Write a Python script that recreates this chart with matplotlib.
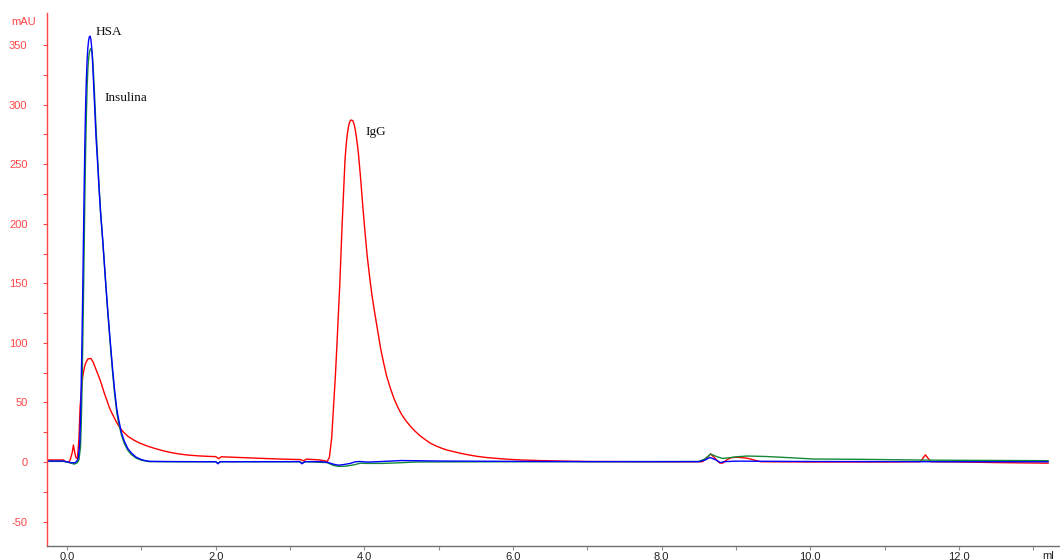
import matplotlib
matplotlib.use("Agg")
import matplotlib.pyplot as plt

plt.rcParams["axes.unicode_minus"] = False

# Chromatogram traces (volume in ml, absorbance in mAU)
hsa_ml = [-0.27, -0.05, 0.0, 0.05, 0.10, 0.13, 0.15, 0.17, 0.18, 0.19, 0.20,
          0.21, 0.22, 0.23, 0.24, 0.25, 0.26, 0.27, 0.28, 0.29, 0.30, 0.31,
          0.32, 0.33, 0.34, 0.35, 0.37, 0.39, 0.41, 0.43, 0.45, 0.48, 0.52,
          0.55, 0.58, 0.61, 0.64, 0.67, 0.69, 0.73, 0.77, 0.82, 0.87, 0.93,
          1.0, 1.06, 1.12, 1.5, 2.0, 2.03, 2.06, 3.13, 3.16, 3.2, 3.4, 3.5,
          3.58, 3.65, 3.72, 3.81, 3.88, 3.94, 4.05, 4.2, 4.5, 5.0, 6.0, 7.0,
          8.0, 8.5, 8.58, 8.65, 8.72, 8.79, 8.85, 9.0, 10.0, 11.0, 12.0, 13.2]
hsa_mau = [0.8, 0.8, 0.0, -0.5, -0.8, 0.5, 3, 15, 35, 65, 100,
           140, 185, 230, 270, 300, 322, 338, 348, 354, 357, 357.5,
           355, 349, 340, 327, 300, 272, 252, 230, 210, 186, 150,
           125, 102, 80, 60, 44, 37, 25, 17.5, 11, 7.3, 4,
           2, 1.0, 0.5, 0.3, 0.2, -1.5, 0.2, 0.3, -1.5, 0.3, 0.3, -0.3,
           -1.8, -2.7, -2.2, -1.2, 0.2, 0.4, -0.1, 0.3, 1.2, 0.8, 0.5, 0.3,
           0.3, 0.3, 1.5, 3.8, 2.0, -0.5, 0.3, 0.7, 0.4, 0.3, 0.2, 0.2]

ins_ml = [-0.27, -0.05, 0.0, 0.05, 0.10, 0.14, 0.16, 0.18, 0.19, 0.20, 0.21,
          0.22, 0.23, 0.24, 0.25, 0.26, 0.27, 0.28, 0.29, 0.30, 0.315, 0.33,
          0.34, 0.35, 0.37, 0.39, 0.41, 0.43, 0.45, 0.48, 0.52, 0.55, 0.58,
          0.61, 0.64, 0.67, 0.69, 0.73, 0.77, 0.82, 0.87, 0.93, 1.0, 1.1,
          1.5, 2.0, 2.03, 2.06, 3.13, 3.16, 3.2, 3.5, 3.58, 3.65, 3.75, 3.85,
          3.95, 4.03, 4.25, 4.5, 4.7, 6.0, 8.0, 8.5, 8.58, 8.66, 8.74, 8.82,
          8.9, 9.0, 9.15, 9.4, 9.6, 10.04, 10.7, 11.5, 12.0, 13.2]
ins_mau = [0.5, 0.5, 0.0, -1.0, -1.8, -0.5, 2, 12, 30, 58, 95,
           135, 180, 225, 262, 292, 315, 330, 339, 344, 347, 346,
           342, 333, 308, 280, 256, 232, 211, 186, 150, 124, 100,
           77, 57, 41, 34, 23, 15.5, 9.5, 6, 3.2, 1.5, 0.3,
           0.2, 0.2, -1.0, 0.2, 0.2, -1.0, 0.2, -0.5, -2.8, -3.7, -3.5, -2.5,
           -1.0, -1.2, -1.2, -0.6, 0.0, 0.2, 0.3, 0.4, 2.5, 6.7, 4.5, 3.0,
           3.5, 4.3, 5.0, 4.6, 4.0, 2.5, 2.2, 1.6, 1.4, 1.1]

igg_ml = [-0.27, -0.05, -0.02, 0.02, 0.04, 0.07, 0.085, 0.10, 0.12, 0.14,
          0.16, 0.175, 0.19, 0.20, 0.21, 0.22, 0.235, 0.25, 0.28, 0.32, 0.35,
          0.40, 0.444, 0.50, 0.58, 0.62, 0.66, 0.713, 0.76, 0.82, 0.90, 0.98,
          1.06, 1.117, 1.2, 1.3, 1.4, 1.5, 1.61, 1.75, 1.9, 2.0, 2.04, 2.08,
          2.1, 2.5, 2.8, 3.14, 3.18, 3.22, 3.4, 3.47, 3.5, 3.53, 3.56, 3.58,
          3.61, 3.63, 3.67, 3.70, 3.74, 3.755, 3.77, 3.785, 3.80, 3.815, 3.83,
          3.845, 3.86, 3.875, 3.89, 3.905, 3.92, 3.95, 3.98, 4.01, 4.04, 4.07,
          4.10, 4.14, 4.18, 4.22, 4.26, 4.30, 4.35, 4.40, 4.45, 4.5, 4.56,
          4.62, 4.68, 4.75, 4.82, 4.89, 4.97, 5.05, 5.12, 5.2, 5.3, 5.4, 5.52,
          5.65, 5.8, 5.95, 6.1, 6.35, 6.64, 7.0, 8.0, 8.55, 8.6, 8.66, 8.72,
          8.78, 8.82, 8.87, 8.93, 9.01, 9.15, 9.25, 9.33, 10.0, 11.0, 11.48,
          11.55, 11.62, 12.0, 12.5, 13.2]
igg_mau = [1.7, 1.7, 0.3, 0.0, 1.5, 8, 14.3, 9, 3.5, 3,
           20, 46, 58, 65, 71, 75, 80, 83, 86.5, 87, 84,
           76, 69, 58, 44, 39, 34, 28.5, 25, 21.5, 18.3, 15.8,
           13.8, 12.6, 11, 9.3, 7.9, 6.8, 5.9, 5.2, 4.7, 4.5, 2.8, 4.5,
           4.3, 3.3, 2.6, 2.0, 1.0, 2.4, 1.7, 1.0, 0.3, 4, 20, 41,
           72, 97, 150, 198, 254, 266, 275, 281, 285, 287, 287,
           286.5, 284, 280, 274, 267, 259, 238, 214, 192, 172, 156,
           141, 125, 110, 95, 83, 72, 62, 53, 46, 40, 34.5,
           30, 26, 22, 18.7, 15.7, 13.3, 11.3, 9.9, 8.7, 7.2, 6.0, 4.7,
           3.7, 2.9, 2.2, 1.7, 1.2, 0.8, 0.4, 0.2, 0.2, 3, 6.7, 3,
           -0.8, -1, 1.5, 3.5, 4, 3.2, 1.5, 0.2, 0.0, 0.0, 0.2,
           6, 0.2, 0.0, -0.5, -1.0]

# Peak labels: text, x (ml), y (mAU)
peak_names = ["HSA", "Insulina", "IgG"]
peak_x = [0.38, 0.50, 4.02]
peak_y = [361, 306, 277]

y_ticks = [-50, 0, 50, 100, 150, 200, 250, 300, 350]
x_ticks = [0.0, 2.0, 4.0, 6.0, 8.0, 10.0, 12.0]

axis_red = "#ff4545"

fig = plt.figure(figsize=(10.6, 5.6), dpi=100)
ax = fig.add_axes([47 / 1060, 1 - 545.7 / 560, 1 - 47 / 1060, (545.7 - 13) / 560])

ax.plot(igg_ml, igg_mau, color="#ff0000", lw=1.0)
ax.plot(ins_ml, ins_mau, color="#138a3a", lw=1.0)
ax.plot(hsa_ml, hsa_mau, color="#0000ff", lw=1.0)

for name, px, py in zip(peak_names, peak_x, peak_y):
    ax.text(px, py, name, family="Liberation Serif", fontsize=9.5,
            color="#111111", ha="left", va="center")

ax.set_xlim(-0.27, 13.36)
ax.set_ylim(-70.3, 377)

ax.set_yticks(y_ticks)
ax.set_yticks([t + 25 for t in y_ticks[:-1]], minor=True)
ax.set_xticks(x_ticks)
ax.set_xticks([t + 1.0 for t in x_ticks[:-1]] + [13.0], minor=True)
ax.set_xticklabels([f"{t:.1f}" for t in x_ticks])

# spines: red y axis, gray x axis, no box
for side in ["top", "right"]:
    ax.spines[side].set_visible(False)
ax.spines["left"].set_color(axis_red)
ax.spines["left"].set_linewidth(1.0)
ax.spines["bottom"].set_color("#707070")
ax.spines["bottom"].set_linewidth(1.0)

ax.tick_params(axis="y", which="both", colors=axis_red, labelcolor=axis_red,
               direction="out", length=3, width=0.8, pad=11, labelsize=8)
ax.tick_params(axis="x", which="both", colors="#909090", labelcolor="#222222",
               direction="out", length=3, width=0.8, pad=1.5, labelsize=8)
for lab in ax.get_yticklabels() + ax.get_xticklabels():
    lab.set_family("Liberation Sans")

# units
fig.text(11 / 1060, 1 - 22 / 560, "mAU", color=axis_red, fontsize=8,
         family="Liberation Sans", ha="left", va="center")
ax.annotate("ml", xy=(13.2, 0), xycoords=("data", "axes fraction"),
            xytext=(0, -4), textcoords="offset points", ha="center", va="top",
            fontsize=8, color="#222222", family="Liberation Sans")

fig.savefig("out.png", dpi=100)
